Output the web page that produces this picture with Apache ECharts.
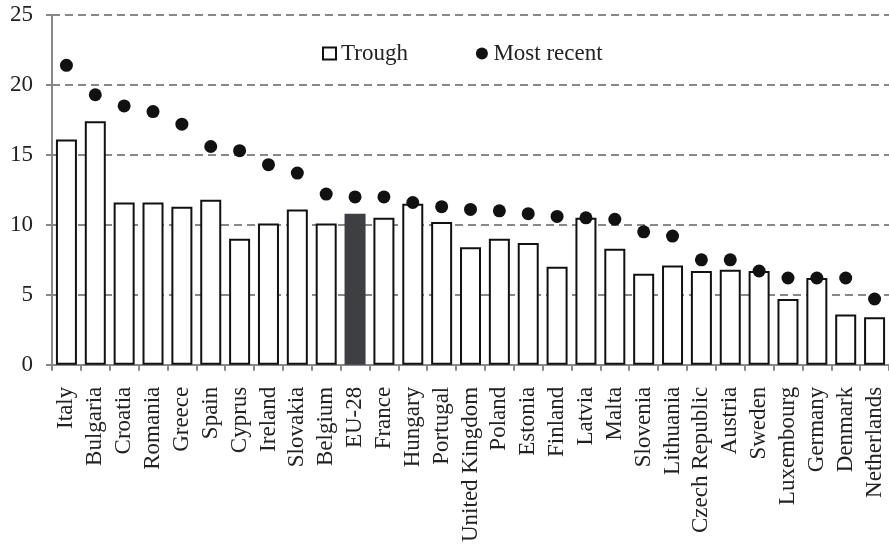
<!DOCTYPE html>
<html>
<head>
<meta charset="utf-8">
<script src="https://cdn.jsdelivr.net/npm/echarts@6/dist/echarts.min.js"></script>
<style>html,body{margin:0;padding:0;background:#fff;}#c{width:889px;height:545px;}</style>
</head>
<body>
<div id="c"></div>
<script>
const categories = ["Italy","Bulgaria","Croatia","Romania","Greece","Spain","Cyprus","Ireland","Slovakia","Belgium","EU-28","France","Hungary","Portugal","United Kingdom","Poland","Estonia","Finland","Latvia","Malta","Slovenia","Lithuania","Czech Republic","Austria","Sweden","Luxembourg","Germany","Denmark","Netherlands"];
const trough = [16.1,17.4,11.6,11.6,11.3,11.8,9.0,10.1,11.1,10.1,10.8,10.5,11.5,10.2,8.4,9.0,8.7,7.0,10.5,8.3,6.5,7.1,6.7,6.8,6.7,4.7,6.2,3.6,3.4];
const mostRecent = [21.4,19.3,18.5,18.1,17.2,15.6,15.3,14.3,13.7,12.2,12.0,12.0,11.6,11.3,11.1,11.0,10.8,10.6,10.5,10.4,9.5,9.2,7.5,7.5,6.7,6.2,6.2,6.2,4.7];
const highlight = "EU-28";

const FONT = "Liberation Serif";
const chart = echarts.init(document.getElementById('c'), null, {renderer: 'canvas'});
chart.setOption({
  animation: false,
  textStyle: {fontFamily: FONT, color: '#222'},
  grid: {left: 52, right: 0, top: 15, bottom: 180, containLabel: false},
  legend: {
    left: 317, top: 37,
    itemWidth: 13, itemHeight: 12, itemGap: 68,
    textStyle: {fontFamily: FONT, fontSize: 23, color: '#222'},
    data: [
      {name: 'Trough', icon: 'rect', itemStyle: {color: '#fff', borderColor: '#111', borderWidth: 2}},
      {name: 'Most recent', icon: 'circle', itemStyle: {color: '#111'}}
    ]
  },
  xAxis: {
    type: 'category',
    data: categories,
    axisLine: {lineStyle: {color: '#888', width: 2}},
    axisTick: {show: true, length: 6, lineStyle: {color: '#888', width: 2}},
    axisLabel: {rotate: 90, interval: 0, margin: 22, fontFamily: FONT, fontSize: 23, color: '#222'}
  },
  yAxis: {
    type: 'value', min: 0, max: 25, interval: 5,
    axisLine: {show: true, lineStyle: {color: '#888', width: 2}},
    axisTick: {show: true, length: 6, lineStyle: {color: '#888', width: 2}},
    axisLabel: {margin: 19, fontFamily: FONT, fontSize: 23, color: '#222'},
    splitLine: {show: true, lineStyle: {color: '#888', width: 2, type: [8, 5]}}
  },
  series: [
    {
      name: 'Trough', type: 'bar', barWidth: 21,
      data: trough.map((v, i) => categories[i] === highlight
        ? {value: v, itemStyle: {color: '#3e3f42', borderColor: '#3e3f42', borderWidth: 0}}
        : v),
      itemStyle: {color: '#fff', borderColor: '#111', borderWidth: 2},
      z: 2
    },
    {
      name: 'Most recent', type: 'scatter', symbol: 'circle', symbolSize: 13,
      data: mostRecent,
      itemStyle: {color: '#111', opacity: 1},
      z: 3
    }
  ]
});
</script>
</body>
</html>
